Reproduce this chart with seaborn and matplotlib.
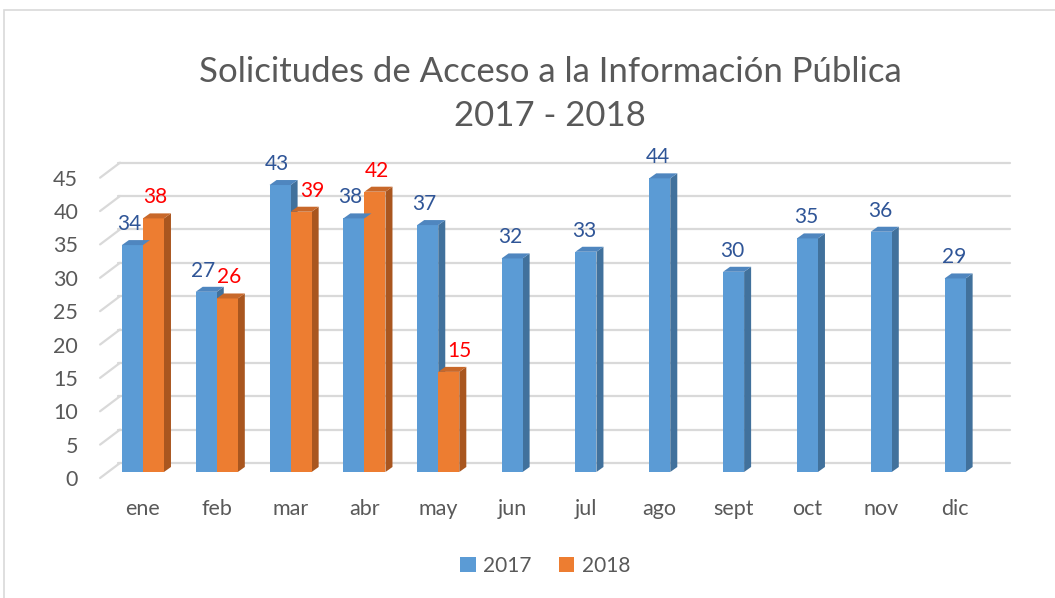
import numpy as np
import pandas as pd
import seaborn as sns
import matplotlib.pyplot as plt
from matplotlib.patches import Polygon, Rectangle
from matplotlib.transforms import ScaledTranslation

# ---- data ----
months = ["ene", "feb", "mar", "abr", "may", "jun", "jul", "ago", "sept", "oct", "nov", "dic"]
values_2017 = [34, 27, 43, 38, 37, 32, 33, 44, 30, 35, 36, 29]
values_2018 = [38, 26, 39, 42, 15]          # ene - may
years = ["2017", "2018"]
y_ticks = list(range(0, 50, 5))
title_lines = ["Solicitudes de Acceso a la Información Pública", "2017 - 2018"]

# ---- style ----
blue, orange = "#5B9BD5", "#ED7D31"
blue_side, blue_top = "#41719C", "#4F86BF"
orange_side, orange_top = "#A9561F", "#C8682A"
lab_blue, lab_red = "#2F5597", "#FF0000"
grey_txt = "#595959"
grid_col = "#D9D9D9"

sns.set_theme(style="white")
plt.rcParams['font.family'] = ['Lato', 'DejaVu Sans']

W, H = 1055, 598
fig = plt.figure(figsize=(W / 100, H / 100), dpi=100)
fig.patch.set_facecolor("white")
# chart border
fig.add_artist(Rectangle((4 / W, -0.05), 1.2, 1.05 - 10 / H, transform=fig.transFigure,
                         fill=False, edgecolor="#D9D9D9", lw=1.2))

ax = fig.add_axes([106 / W, 1 - 480 / H, 886 / W, 325 / H])

n2018 = len(values_2018)
paired = pd.DataFrame({
    "mes": months[:n2018] * 2,
    "año": ["2017"] * n2018 + ["2018"] * n2018,
    "valor": values_2017[:n2018] + values_2018,
})
single = pd.DataFrame({"mes": months[n2018:], "valor": values_2017[n2018:]})

sns.barplot(data=paired, x="mes", y="valor", hue="año", order=months, hue_order=years,
            palette=[blue, orange], width=0.57, saturation=1, errorbar=None,
            ax=ax, legend=False, zorder=3, linewidth=0)
sns.barplot(data=single, x="mes", y="valor", order=months, color=blue, width=0.285,
            saturation=1, errorbar=None, ax=ax, zorder=3, linewidth=0)

ax.set_xlim(-0.5, 11.5)
ax.set_ylim(-1.2, 47.5)

# 3D depth faces derived from each drawn bar
dx, dy = 0.095, 0.75
for p in list(ax.patches):
    x0, w, h = p.get_x(), p.get_width(), p.get_height()
    if not np.isfinite(h) or h == 0:
        continue
    x1 = x0 + w
    is_blue = np.allclose(p.get_facecolor()[:3], plt.matplotlib.colors.to_rgb(blue), atol=0.02)
    side_c = blue_side if is_blue else orange_side
    top_c = blue_top if is_blue else orange_top
    ax.add_patch(Polygon([(x1, 0), (x1 + dx, dy), (x1 + dx, h + dy), (x1, h)],
                         closed=True, facecolor=side_c, edgecolor="none", zorder=2.9))
    ax.add_patch(Polygon([(x0, h), (x0 + dx, h + dy), (x1 + dx, h + dy), (x1, h)],
                         closed=True, facecolor=top_c, edgecolor="none", zorder=3.1))

# back-wall gridlines with side-wall diagonals
for v in y_ticks:
    ax.plot([-0.34, 11.75], [v + 1.35, v + 1.35], color=grid_col, lw=1.6, zorder=0, clip_on=False)
    ax.plot([-0.58, -0.31], [v - 0.9, v + 1.35], color=grid_col, lw=1.6, zorder=0, clip_on=False)

# data labels
conts = ax.containers
label_colors = [lab_blue, lab_red, lab_blue]
label_shift = [-2.5, 1.5, -1.0]   # horizontal nudges in points
label_sets = []
for c, col, sh in zip(conts, label_colors, label_shift):
    txts = ax.bar_label(c, labels=[f"{int(b.get_height())}" if np.isfinite(b.get_height()) and b.get_height() > 0 else "" for b in c],
                        padding=8, color=col, fontsize=15, zorder=5)
    for t in txts:
        t.set_x(t.get_position()[0])
        t.xyann = (t.xyann[0] + sh, t.xyann[1])
    label_sets.append(txts)

# 2018 labels that would collide with a taller 2017 bar move to the right (as Excel does)
blue_bars = list(conts[0])
for i, (bb, ob, t) in enumerate(zip(blue_bars, conts[1], label_sets[1])):
    hb, ho = bb.get_height(), ob.get_height()
    if np.isfinite(hb) and np.isfinite(ho) and hb > ho + 2:
        t.xyann = (t.xyann[0] + 6.5, t.xyann[1])

# axes styling
for s in ax.spines.values():
    s.set_visible(False)
ax.set_xlabel("")
ax.set_ylabel("")
ax.set_yticks(y_ticks)
ax.set_yticklabels([str(v) for v in y_ticks])
ax.tick_params(axis="y", length=0, pad=20, labelsize=15.5, labelcolor=grey_txt)
ax.tick_params(axis="x", length=0, pad=14, labelsize=15.5, labelcolor=grey_txt)
off = ScaledTranslation(0, -6 / 100, fig.dpi_scale_trans)
for t in ax.get_yticklabels():
    t.set_transform(t.get_transform() + off)
ax.patch.set_alpha(0)

# title
fig.text(550 / W, 1 - 72 / H, title_lines[0], ha="center", va="center", fontsize=25, color=grey_txt)
fig.text(550 / W, 1 - 116 / H, title_lines[1], ha="center", va="center", fontsize=25, color=grey_txt)

# legend
handles = [Rectangle((0, 0), 1, 1, facecolor=c, edgecolor="none") for c in (blue, orange)]
fig.legend(handles, years, loc="center", bbox_to_anchor=(545 / W, 1 - 566 / H), ncol=2,
           frameon=False, handlelength=0.75, handleheight=0.75, handletextpad=0.35,
           columnspacing=1.3, prop={"size": 15}, labelcolor=grey_txt)

fig.savefig("out.png", dpi=100, facecolor="white")
